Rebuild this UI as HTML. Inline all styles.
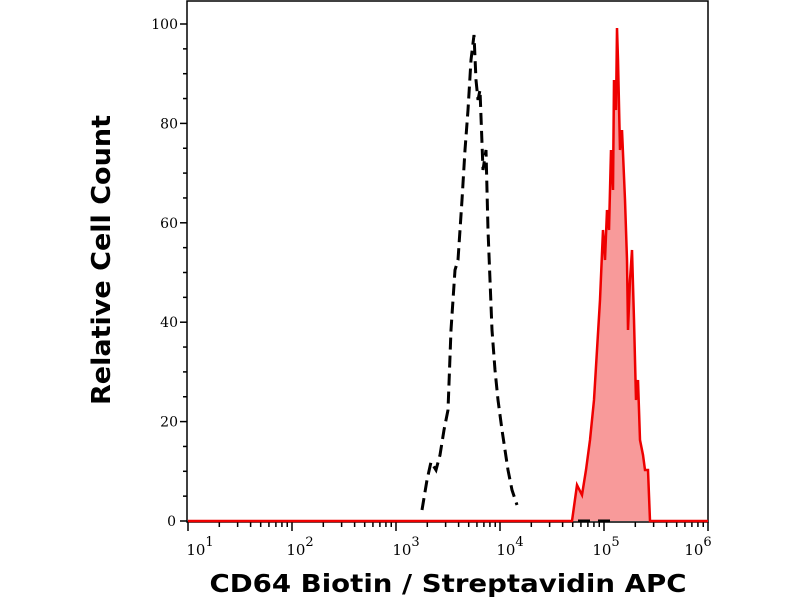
<!DOCTYPE html>
<html><head><meta charset="utf-8"><style>
body{margin:0;background:#fff;width:800px;height:600px;overflow:hidden}
svg{display:block}
</style></head><body>
<svg id="s" width="800" height="600" xmlns="http://www.w3.org/2000/svg">
<rect x="187" y="1" width="521" height="521" fill="none" stroke="#000" stroke-width="1.5"/>
<g id="ticks" stroke="#000" stroke-width="1.5"></g>
<g id="labels" font-family="DejaVu Serif, Liberation Serif, serif" font-size="14" fill="#000"></g>
<polygon fill="#f89a9a" stroke="none" points="572,521 577,485 582,495 586,470 590,440 594,400 597,350 600,300 603,230 605,260 607,210 609,230 611,150 613,190 614,80 616,110 617,28 618,60 620,150 622,130 625,200 627,260 628,330 630,280 632,250 634,320 636,400 638,380 640,440 643,455 645,470 648,470 650,521"/>
<polyline fill="none" stroke="#ee0000" stroke-width="2.5" points="188,521 572,521 577,485 582,495 586,470 590,440 594,400 597,350 600,300 603,230 605,260 607,210 609,230 611,150 613,190 614,80 616,110 617,28 618,60 620,150 622,130 625,200 627,260 628,330 630,280 632,250 634,320 636,400 638,380 640,440 643,455 645,470 648,470 650,521 708,521"/>
<polyline fill="none" stroke="#000" stroke-width="3" stroke-dasharray="12,6" points="422,510 427,480 431,462 436,470 440,455 444,430 448,410 451,330 455,270 458,260 462,200 465,150 468,110 471,60 474,35 476,80 478,100 480,90 483,170 486,150 488,230 490,280 492,330 495,370 498,400 502,430 505,450 508,470 512,490 517,505"/>
<polyline fill="none" stroke="#000" stroke-width="3" stroke-dasharray="12,8" points="578,521 600,521 610,521"/>
<text x="110" y="260" transform="rotate(-90 110 260)" text-anchor="middle" font-family="DejaVu Sans, Liberation Sans, sans-serif" font-weight="bold" font-size="26" textLength="290" lengthAdjust="spacingAndGlyphs">Relative Cell Count</text>
<text x="448" y="592" text-anchor="middle" font-family="DejaVu Sans, Liberation Sans, sans-serif" font-weight="bold" font-size="25" textLength="477" lengthAdjust="spacingAndGlyphs">CD64 Biotin / Streptavidin APC</text>
</svg>
<script>
var t=document.getElementById('ticks'),l=document.getElementById('labels'),ns='http://www.w3.org/2000/svg';
function ln(x1,y1,x2,y2){var e=document.createElementNS(ns,'line');e.setAttribute('x1',x1);e.setAttribute('y1',y1);e.setAttribute('x2',x2);e.setAttribute('y2',y2);t.appendChild(e);}
function tx(x,y,s,a){var e=document.createElementNS(ns,'text');e.setAttribute('x',x);e.setAttribute('y',y);if(a)e.setAttribute('text-anchor',a);e.innerHTML=s;l.appendChild(e);}
for(var v=0;v<=100;v+=5){var y=521-v*4.97;ln(v%20==0?180:183,y,187,y);if(v%20==0)tx(v==0?176:178,y+5,v,'end');}
var x0=188,d=104,lp=[200,300,406,510,606,698];
for(var k=1;k<=6;k++){var x=x0+(k-1)*d;ln(x,522,x,531);tx(lp[k-1],555,'<tspan font-size="15">10</tspan><tspan dy="-9" font-size="13">'+k+'</tspan>','middle');
if(k<6)for(var m=2;m<=9;m++){var xm=x+Math.log10(m)*d;ln(xm,522,xm,527);}}
</script>
</body></html>
